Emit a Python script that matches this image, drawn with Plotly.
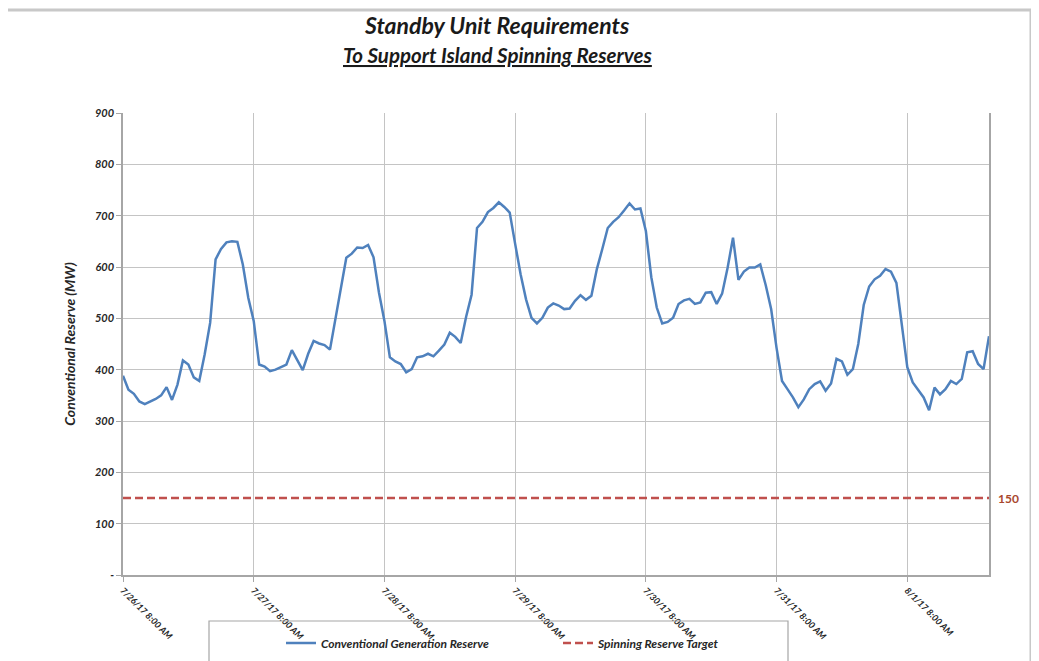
from datetime import datetime, timedelta

import plotly.graph_objects as go

START = datetime(2017, 7, 26, 8, 0)

# hourly conventional generation reserve (MW)
RESERVE_MW = [
    388, 361, 353, 338, 333, 338, 343, 350, 366, 341, 371, 418, 410, 385, 378, 430,
    491, 615, 635, 648, 650, 649, 605, 540, 495, 410, 406, 397, 400, 405, 410, 438,
    418, 399, 431, 456, 451, 448, 439, 498, 558, 618, 626, 638, 637, 643, 619, 550,
    495, 424, 416, 411, 395, 401, 424, 426, 431, 426, 437, 449, 472, 464, 452, 503,
    546, 676, 688, 707, 715, 726, 717, 706, 645, 586, 537, 501, 490, 501, 521, 529,
    525, 518, 519, 534, 545, 536, 544, 596, 635, 676, 688, 697, 710, 724, 712, 714,
    670, 580, 521, 490, 493, 501, 528, 535, 538, 528, 531, 550, 551, 528, 548, 598,
    657, 575, 591, 599, 599, 605, 565, 518, 442, 378, 362, 346, 327, 342, 362, 372,
    377, 359, 373, 421, 416, 390, 401, 450, 526, 562, 576, 583, 596, 591, 569, 490,
    405, 375, 360, 346, 321, 365, 352, 362, 378, 372, 382, 434, 436, 411, 401, 465,
]
TARGET_MW = 150

TICK_DAYS = ["7/26/17", "7/27/17", "7/28/17", "7/29/17", "7/30/17", "7/31/17", "8/1/17"]
Y_TICKS = [0, 100, 200, 300, 400, 500, 600, 700, 800, 900]
Y_TICK_TEXT = ["-", "100", "200", "300", "400", "500", "600", "700", "800", "900"]

BLUE = "#4f81bd"
RED = "#c0504d"
GRID = "#c4c4c4"
FONT = "Lato, 'Open Sans', sans-serif"

hours = [START + timedelta(hours=i) for i in range(len(RESERVE_MW))]
tick_vals = [START + timedelta(days=i) for i in range(len(TICK_DAYS))]
tick_text = [f"{d} 8:00 AM" for d in TICK_DAYS]

# plot area in screen pixels; the page puts the figure 8px in from the corner
L, R, T, B = 123, 989, 113, 575
W, H = 1039, 661
OFF = 8


def px_x(x):
    return (x - L) / (R - L)


def px_y(y):
    return (B - y) / (B - T)


fig = go.Figure()
fig.add_trace(
    go.Scatter(
        x=hours,
        y=RESERVE_MW,
        mode="lines",
        name="Conventional Generation Reserve",
        line=dict(color=BLUE, width=2.5),
        legend="legend",
    )
)
fig.add_trace(
    go.Scatter(
        x=[hours[0], hours[-1]],
        y=[TARGET_MW, TARGET_MW],
        mode="lines",
        name="Spinning Reserve Target",
        line=dict(color=RED, width=2.5, dash="8px,4px"),
        legend="legend2",
    )
)

legend_font = dict(family=FONT, size=12, color="#262626", weight="bold", style="italic")
tick_font = dict(family=FONT, size=9, color="#262626", weight="bold", style="italic")

fig.update_layout(
    width=W,
    height=H,
    plot_bgcolor="white",
    paper_bgcolor="white",
    margin=dict(l=L - OFF, r=W - R + OFF, t=T - OFF, b=H - B + OFF),
    font=dict(family=FONT, size=9, color="#262626"),
    showlegend=True,
    legend=dict(
        x=px_x(281), y=px_y(643), xanchor="left", yanchor="middle",
        font=legend_font, bgcolor="rgba(0,0,0,0)",
    ),
    legend2=dict(
        x=px_x(558), y=px_y(643), xanchor="left", yanchor="middle",
        font=legend_font, bgcolor="rgba(0,0,0,0)",
    ),
    xaxis=dict(
        range=[hours[0], hours[-1]],
        tickvals=tick_vals,
        ticktext=tick_text,
        tickangle=45,
        tickfont=tick_font,
        showgrid=True,
        gridcolor=GRID,
        gridwidth=1,
        showline=True,
        linecolor="#a6a6a6",
        linewidth=1.5,
        ticks="outside",
        ticklen=5,
        tickcolor="#a6a6a6",
        zeroline=False,
    ),
    yaxis=dict(
        range=[0, 900],
        tickvals=Y_TICKS,
        ticktext=Y_TICK_TEXT,
        tickfont=dict(family=FONT, size=11, color="#262626", weight="bold", style="italic"),
        title=dict(
            text="Conventional Reserve (MW)",
            font=dict(family=FONT, size=14, color="#262626", weight="bold", style="italic"),
            standoff=16,
        ),
        showgrid=True,
        gridcolor=GRID,
        gridwidth=1,
        showline=True,
        mirror=True,
        linecolor="#a6a6a6",
        linewidth=1.5,
        ticks="outside",
        ticklen=5,
        tickcolor="#a6a6a6",
        zeroline=False,
    ),
    annotations=[
        dict(
            text="Standby Unit Requirements",
            xref="paper", yref="paper", x=px_x(497), y=px_y(25),
            showarrow=False, xanchor="center", yanchor="middle",
            font=dict(family=FONT, size=23, color="#1a1a1a", weight="bold", style="italic"),
        ),
        dict(
            text="<u>To Support Island Spinning Reserves</u>",
            xref="paper", yref="paper", x=px_x(498), y=px_y(55),
            showarrow=False, xanchor="center", yanchor="middle",
            font=dict(family=FONT, size=20.5, color="#1a1a1a", weight="bold", style="italic"),
        ),
        dict(
            text="150",
            xref="paper", yref="y", x=px_x(996), y=TARGET_MW,
            showarrow=False, xanchor="left", yanchor="middle",
            font=dict(family=FONT, size=12, color="#a9472d", weight="bold"),
        ),
    ],
    shapes=[
        # legend box, cut off by the bottom of the page
        dict(
            type="rect", xref="paper", yref="paper",
            x0=px_x(209), x1=px_x(788), y0=px_y(621), y1=px_y(690),
            line=dict(color="#a6a6a6", width=1.2), fillcolor="rgba(0,0,0,0)",
        ),
        # outer chart frame
        dict(
            type="rect", xref="paper", yref="paper",
            x0=px_x(-5), x1=px_x(1031), y0=px_y(10), y1=px_y(720),
            line=dict(color="#c8c8c8", width=3), fillcolor="rgba(0,0,0,0)",
        ),
    ],
)

fig.write_html("out.html")
